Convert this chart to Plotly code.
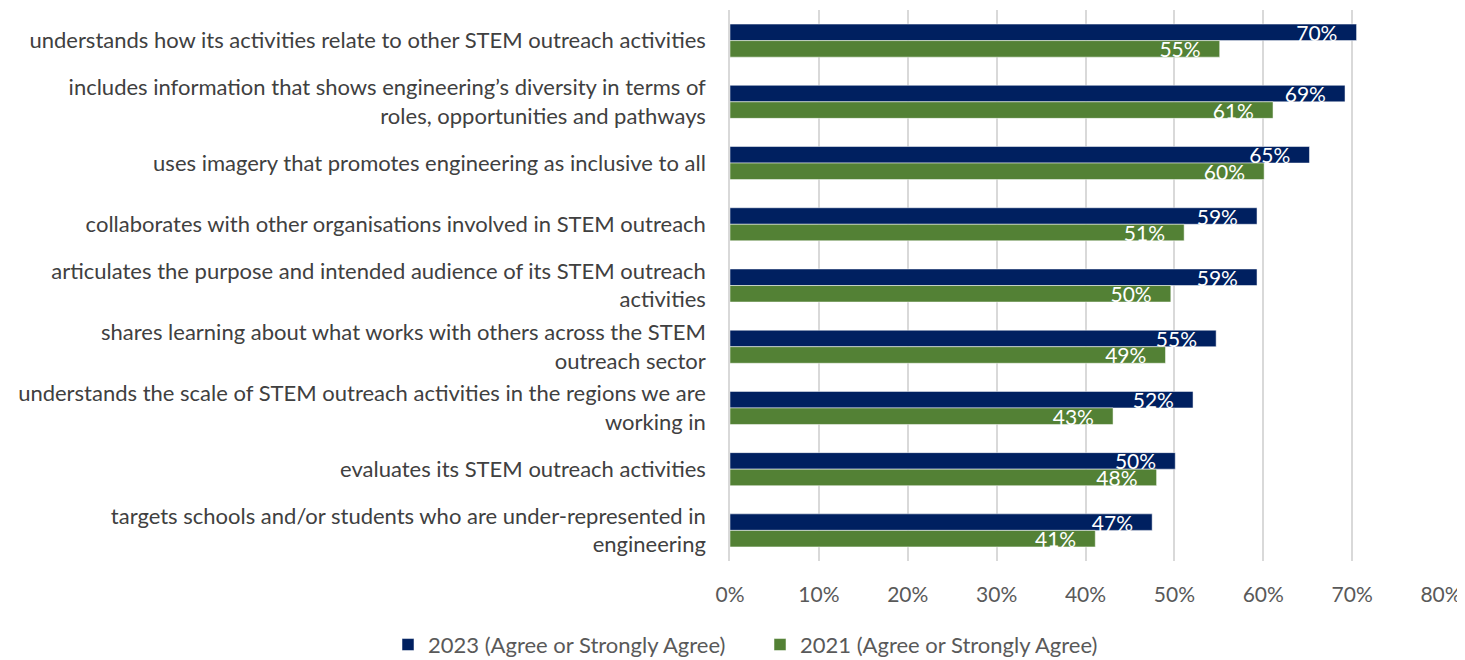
import plotly.graph_objects as go

categorias = [
    "understands how its activities relate to other STEM outreach activities",
    "includes information that shows engineering’s diversity in terms of<br>roles, opportunities and pathways",
    "uses imagery that promotes engineering as inclusive to all",
    "collaborates with other organisations involved in STEM outreach",
    "articulates the purpose and intended audience of its STEM outreach<br>activities",
    "shares learning about what works with others across the STEM<br>outreach sector",
    "understands the scale of STEM outreach activities in the regions we are<br>working in",
    "evaluates its STEM outreach activities",
    "targets schools and/or students who are under-represented in<br>engineering",
]

valores_2023 = [0.705, 0.692, 0.652, 0.593, 0.593, 0.547, 0.521, 0.501, 0.475]
valores_2021 = [0.551, 0.611, 0.601, 0.511, 0.496, 0.490, 0.431, 0.480, 0.411]

rotulos_2023 = ["70%", "69%", "65%", "59%", "59%", "55%", "52%", "50%", "47%"]
rotulos_2021 = ["55%", "61%", "60%", "51%", "50%", "49%", "43%", "48%", "41%"]

FONTE = "Lato"
AZUL = "#002060"
VERDE = "#538135"

fig = go.Figure()

for nome, valores, rotulos, cor in [
    ("2023 (Agree or Strongly Agree)", valores_2023, rotulos_2023, AZUL),
    ("2021 (Agree or Strongly Agree)", valores_2021, rotulos_2021, VERDE),
]:
    fig.add_trace(
        go.Bar(
            y=categorias,
            x=valores,
            name=nome,
            orientation="h",
            marker=dict(color=cor, line=dict(color="white", width=0.5)),
            # espaços no fim para afastar o rótulo da ponta da barra
            text=[r + "\u00a0\u00a0\u00a0" for r in rotulos],
            textposition="inside",
            insidetextanchor="end",
            constraintext="none",
            textfont=dict(color="white", size=21, family=FONTE),
            hoverinfo="skip",
        )
    )

fig.update_layout(
    width=1465,
    height=660,
    barmode="group",
    bargap=0.46,
    bargroupgap=0,
    paper_bgcolor="white",
    plot_bgcolor="white",
    font=dict(family=FONTE, size=20, color="#595959"),
    margin=dict(l=722, r=32, t=2, b=104),
    showlegend=True,
    legend=dict(
        orientation="h",
        xref="paper",
        yref="paper",
        x=-0.481,
        xanchor="left",
        y=-0.152,
        yanchor="middle",
        font=dict(size=22, color="#595959"),
        itemwidth=30,
        entrywidth=327,
        entrywidthmode="pixels",
    ),
)

fig.update_xaxes(
    range=[0, 0.8],
    dtick=0.1,
    tickformat=".0%",
    showgrid=True,
    gridcolor="#d9d9d9",
    gridwidth=1.5,
    zeroline=False,
    showline=False,
    ticks="",
    ticklabelstandoff=19,
    automargin=False,
    tickfont=dict(size=21, color="#595959"),
)
fig.update_yaxes(
    autorange="reversed",
    showline=True,
    linecolor="#d9d9d9",
    linewidth=1.5,
    ticks="",
    ticklabelstandoff=18,
    automargin=False,
    tickfont=dict(size=22, color="#404040"),
)

fig.write_html("out.html")
